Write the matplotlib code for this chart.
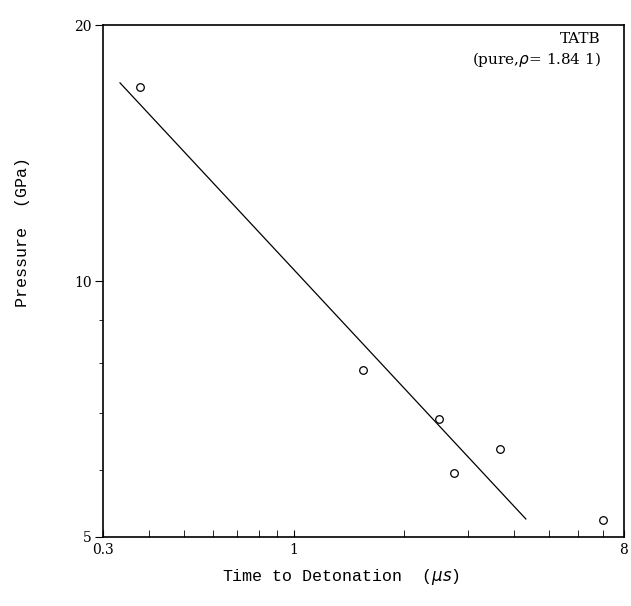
import numpy as np
import matplotlib
matplotlib.use('Agg')
import matplotlib.pyplot as plt
from matplotlib.ticker import FixedLocator, NullFormatter

# measured points
time_us = [0.379, 1.54, 2.49, 2.74, 3.66, 7.0]
pressure_gpa = [16.9, 7.86, 6.88, 5.95, 6.34, 5.23]

# fitted line ends
fit_t = [0.334, 4.31]
fit_p = [17.1, 5.25]

x_ticks = [0.3, 1, 8]
x_ticklabels = ['0.3', '1', '8']
y_ticks = [5, 10, 20]
y_ticklabels = ['5', '10', '20']

plt.rcParams['font.family'] = ['DejaVu Serif']

fig = plt.figure(figsize=(6.31, 6.06), dpi=100)
ax = fig.add_axes([0.1632, 0.1139, 0.8257, 0.8448])

ax.plot(fit_t, fit_p, color='black', lw=0.9)
ax.scatter(time_us, pressure_gpa, s=30, facecolors='white', edgecolors='black', linewidths=0.9, zorder=3)

ax.set_xscale('log')
ax.set_yscale('log')
ax.set_xlim(0.3, 8)
ax.set_ylim(5, 20)

ax.xaxis.set_major_locator(FixedLocator(x_ticks))
ax.xaxis.set_minor_locator(FixedLocator([0.4, 0.5, 0.6, 0.7, 0.8, 0.9, 2, 3, 4, 5, 6, 7]))
ax.xaxis.set_minor_formatter(NullFormatter())
ax.set_xticklabels(x_ticklabels)
ax.yaxis.set_major_locator(FixedLocator(y_ticks))
ax.yaxis.set_minor_locator(FixedLocator([6, 7, 8, 9]))
ax.yaxis.set_minor_formatter(NullFormatter())
ax.set_yticklabels(y_ticklabels)

ax.tick_params(axis='x', which='both', direction='in', length=5, labelsize=10, pad=4)
ax.tick_params(axis='y', which='major', direction='out', length=6, labelsize=10, pad=2)
ax.tick_params(axis='y', which='minor', direction='out', length=3)
for sp in ax.spines.values():
    sp.set_linewidth(1.2)

ax.text(0.955, 0.987, 'TATB', transform=ax.transAxes, ha='right', va='top', fontsize=11)
ax.text(0.955, 0.952, r'(pure,$\rho$= 1.84 1)', transform=ax.transAxes, ha='right', va='top', fontsize=11)

fig.text(0.036, 0.617, 'Pressure  (GPa)', rotation=90, ha='center', va='center', fontsize=12,
         family='Liberation Mono')
fig.text(0.54, 0.048, 'Time to Detonation  ($\\mu s$)', ha='center', va='center', fontsize=12,
         family='Liberation Mono')

fig.savefig('out.png', dpi=100)
